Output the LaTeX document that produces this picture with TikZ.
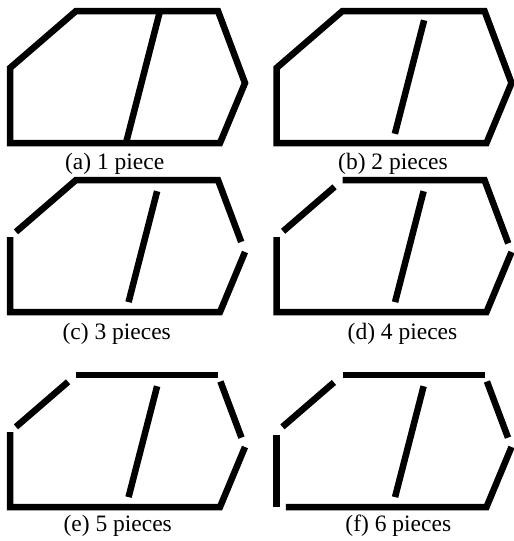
\documentclass[tikz,border=0pt]{standalone}
\usepackage{fontspec}
\setmainfont{Liberation Serif}
\usetikzlibrary{calc}
\tikzset{
  edge/.style={line width=6.5pt, line cap=butt, line join=miter, miter limit=10},
  captext/.style={anchor=base, inner sep=0pt, font=\fontsize{23.5}{27}\selectfont}
}
\newcommand{\carverts}{%
  \coordinate (TL) at (76,11);
  \coordinate (TR) at (218,11);
  \coordinate (R) at (245,83);
  \coordinate (BR) at (220,143);
  \coordinate (BL) at (10,143);
  \coordinate (LU) at (10,68);
  \coordinate (IT) at (160,11);
  \coordinate (IB) at (126,143);
}
\begin{document}
\begin{tikzpicture}[x=1pt,y=-1pt]
\useasboundingbox (0,0) rectangle (514,541);
% (a)
\begin{scope}[name prefix=a-]
  \carverts
  \draw[edge] (TL) -- (TR) -- (R) -- (BR) -- (BL) -- (LU) -- cycle;
  \draw[edge] (IT) -- (IB);
  \node[captext] (lbl) at (114.7,169) {(a) 1 piece};
\end{scope}
% (b)
\begin{scope}[shift={(266.5,0)}, name prefix=b-]
  \carverts
  \draw[edge] (TL) -- (TR) -- (R) -- (BR) -- (BL) -- (LU) -- cycle;
  \draw[edge] ($(IT)!0.07!(IB)$) -- ($(IT)!0.93!(IB)$);
  \node[captext] (lbl) at (126.5,169) {(b) 2 pieces};
\end{scope}
% (c)
\begin{scope}[shift={(0,169)}, name prefix=c-]
  \carverts
  \draw[edge] ($(LU)!0.09!(TL)$) -- (TL) -- (TR) -- ($(TR)!0.86!(R)$);
  \draw[edge] (R) -- (BR) -- (BL) -- (LU);
  \draw[edge] ($(IT)!0.085!(IB)$) -- ($(IT)!0.925!(IB)$);
  \node[captext] (lbl) at (116.7,170.7) {(c) 3 pieces};
\end{scope}
% (d)
\begin{scope}[shift={(266.5,169)}, name prefix=d-]
  \carverts
  \draw[edge] ($(LU)!0.10!(TL)$) -- ($(LU)!0.88!(TL)$);
  \draw[edge] (TL) -- (TR) -- ($(TR)!0.88!(R)$);
  \draw[edge] (R) -- (BR) -- (BL) -- (LU);
  \draw[edge] ($(IT)!0.085!(IB)$) -- ($(IT)!0.925!(IB)$);
  \node[captext] (lbl) at (136,170.7) {(d) 4 pieces};
\end{scope}
% (e)
\begin{scope}[shift={(0,364)}, name prefix=e-]
  \carverts
  \draw[edge] ($(LU)!0.09!(TL)$) -- ($(LU)!0.88!(TL)$);
  \draw[edge] (TL) -- (TR);
  \draw[edge] ($(TR)!0.09!(R)$) -- ($(TR)!0.87!(R)$);
  \draw[edge] (R) -- (BR) -- (BL) -- (LU);
  \draw[edge] ($(IT)!0.085!(IB)$) -- ($(IT)!0.925!(IB)$);
  \node[captext] (lbl) at (117.7,167) {(e) 5 pieces};
\end{scope}
% (f)
\begin{scope}[shift={(266.5,364)}, name prefix=f-]
  \carverts
  \draw[edge] ($(LU)!0.09!(TL)$) -- ($(LU)!0.87!(TL)$);
  \draw[edge] (TL) -- (TR);
  \draw[edge] ($(TR)!0.09!(R)$) -- ($(TR)!0.87!(R)$);
  \draw[edge] (R) -- (BR) -- ($(BR)!0.955!(BL)$);
  \draw[edge] (BL) -- ($(BL)!0.96!(LU)$);
  \draw[edge] ($(IT)!0.085!(IB)$) -- ($(IT)!0.925!(IB)$);
  \node[captext] (lbl) at (131.8,167) {(f) 6 pieces};
\end{scope}
\end{tikzpicture}
\end{document}
